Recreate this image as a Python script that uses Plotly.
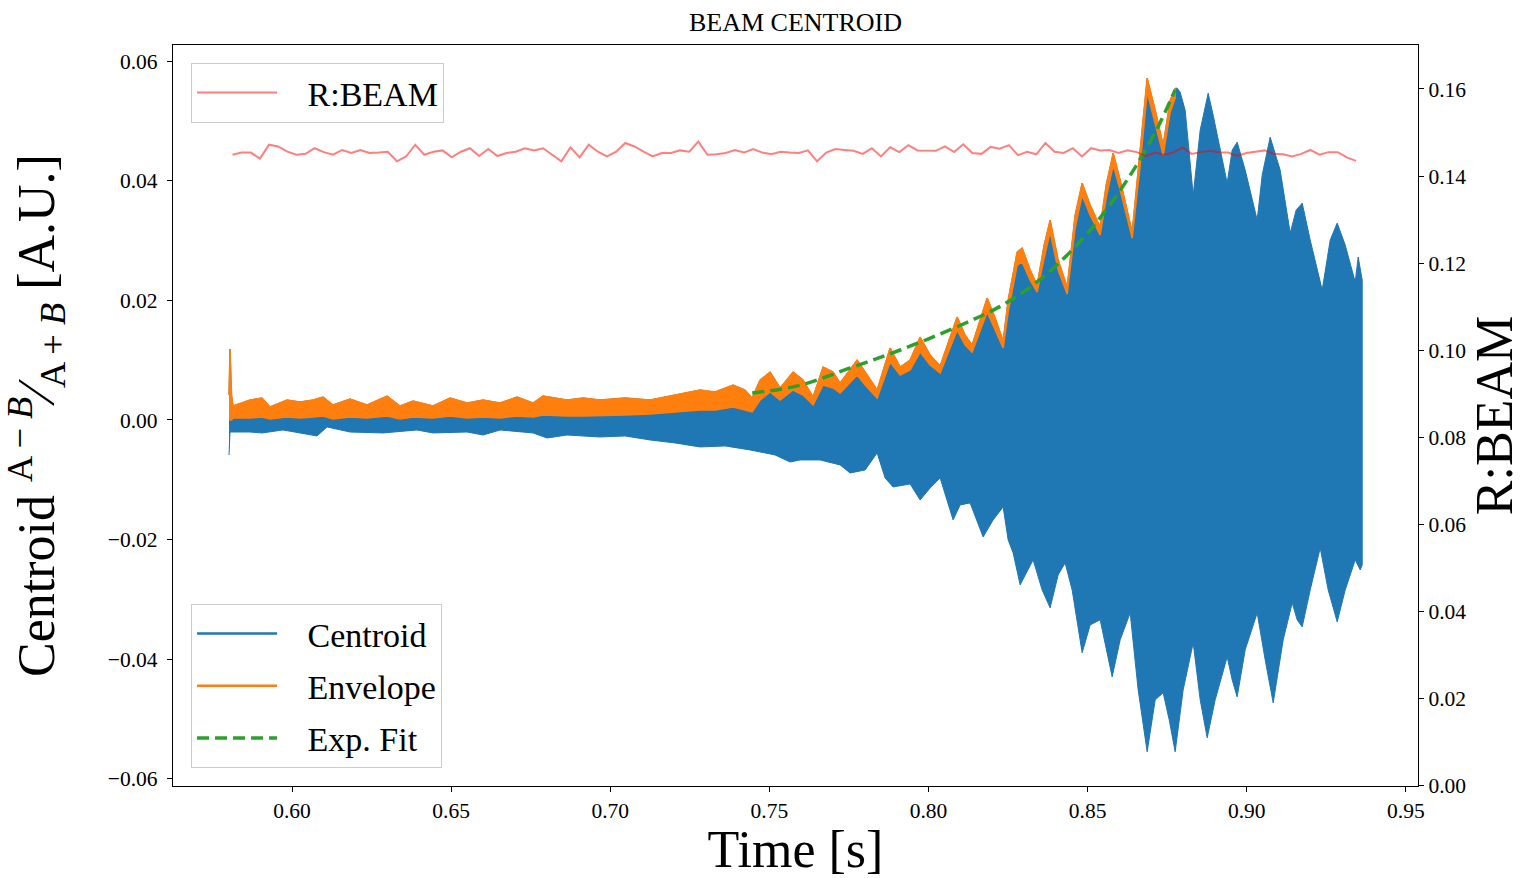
import plotly.graph_objects as go

# ---------------- data ----------------
# Envelope (orange) band: time [s], upper and lower edge [A.U.]
env_t = [0.58020, 0.58052, 0.58099, 0.58146, 0.58680, 0.59057, 0.59309, 0.59843, 0.60251, 0.60660,
         0.60974, 0.61289, 0.61823, 0.62357, 0.62986, 0.63394, 0.63803, 0.64431, 0.64965, 0.65500,
         0.66003, 0.66537, 0.67071, 0.67574, 0.67888, 0.68642, 0.69145, 0.69679, 0.70465, 0.71251,
         0.72036, 0.72822, 0.73294, 0.73859, 0.74236, 0.74456, 0.74708, 0.75022, 0.75336, 0.75745,
         0.76059, 0.76373, 0.76688, 0.77002, 0.77222, 0.77756, 0.78008, 0.78385, 0.78793, 0.79108,
         0.79422, 0.79736, 0.80050, 0.80365, 0.80899, 0.81150, 0.81370, 0.81842, 0.82093, 0.82344,
         0.82502, 0.82785, 0.82942, 0.83193, 0.83413, 0.83633, 0.83821, 0.84073, 0.84356, 0.84607,
         0.84827, 0.85079, 0.85393, 0.85582, 0.85802, 0.86022, 0.86399, 0.86650, 0.86870, 0.87122,
         0.87373, 0.87593, 0.87750]
env_hi = [0.00418, 0.01186, 0.00418, 0.00234, 0.00334, 0.00368, 0.00217, 0.00334, 0.00301, 0.00334,
          0.00384, 0.00251, 0.00351, 0.00251, 0.00401, 0.00234, 0.00317, 0.00234, 0.00368, 0.00284,
          0.00334, 0.00284, 0.00384, 0.00284, 0.00401, 0.00334, 0.00368, 0.00334, 0.00368, 0.00334,
          0.00418, 0.00501, 0.00468, 0.00585, 0.00501, 0.00368, 0.00668, 0.00802, 0.00535, 0.00802,
          0.00668, 0.00384, 0.00886, 0.00802, 0.00618, 0.01003, 0.00802, 0.00501, 0.01203, 0.00886,
          0.01003, 0.01387, 0.01086, 0.00902, 0.01721, 0.01420, 0.01253, 0.02039, 0.01704, 0.01320,
          0.02005, 0.02807, 0.02874, 0.02507, 0.02256, 0.02924, 0.03342, 0.02674, 0.02222, 0.03426,
          0.03960, 0.03593, 0.03225, 0.03927, 0.04462, 0.04010, 0.03141, 0.04512, 0.05715, 0.05180,
          0.04595, 0.05347, 0.05548]
env_lo = [0.00000, 0.00000, 0.00000, 0.00033, 0.00033, 0.00050, 0.00017, 0.00050, 0.00033, 0.00050,
          0.00067, 0.00017, 0.00050, 0.00033, 0.00067, 0.00017, 0.00050, 0.00033, 0.00067, 0.00033,
          0.00050, 0.00033, 0.00067, 0.00050, 0.00084, 0.00067, 0.00067, 0.00067, 0.00084, 0.00100,
          0.00134, 0.00167, 0.00167, 0.00217, 0.00167, 0.00134, 0.00334, 0.00468, 0.00334, 0.00501,
          0.00418, 0.00251, 0.00585, 0.00535, 0.00451, 0.00752, 0.00585, 0.00368, 0.00969, 0.00752,
          0.00836, 0.01136, 0.00919, 0.00785, 0.01504, 0.01253, 0.01136, 0.01805, 0.01504, 0.01203,
          0.01805, 0.02590, 0.02640, 0.02339, 0.02139, 0.02707, 0.03141, 0.02507, 0.02105, 0.03208,
          0.03760, 0.03426, 0.03091, 0.03710, 0.04261, 0.03843, 0.03041, 0.04261, 0.05481, 0.04980,
          0.04428, 0.05147, 0.05381]

# Centroid (blue) oscillation: upper edge after the envelope ends
cen_up_t = [0.87813, 0.87907, 0.88064, 0.88190, 0.88316, 0.88536, 0.88787, 0.88944, 0.89164, 0.89384,
            0.89541, 0.89698, 0.89950, 0.90327, 0.90484, 0.90735, 0.91049, 0.91364, 0.91552, 0.91741,
            0.91993, 0.92370, 0.92621, 0.92841, 0.93093, 0.93407, 0.93501, 0.93627]
cen_up = [0.05548, 0.05481, 0.05180, 0.04512, 0.03760, 0.04846, 0.05464, 0.05097, 0.04512, 0.03960,
          0.04512, 0.04645, 0.04178, 0.03342, 0.04094, 0.04729, 0.04178, 0.03125, 0.03509, 0.03626,
          0.03008, 0.02172, 0.03008, 0.03292, 0.02924, 0.02306, 0.02724, 0.02339]

# Centroid (blue) oscillation: lower edge
cen_lo_t = [0.58020, 0.58052, 0.58680, 0.59057, 0.59717, 0.60786, 0.61100, 0.61823, 0.62860, 0.63928,
            0.64431, 0.65500, 0.66003, 0.66537, 0.67574, 0.68014, 0.68642, 0.69679, 0.70465, 0.71251,
            0.72036, 0.72822, 0.73608, 0.74393, 0.75179, 0.75651, 0.75965, 0.76594, 0.77222, 0.77536,
            0.78008, 0.78385, 0.78636, 0.78887, 0.79422, 0.79736, 0.80050, 0.80365, 0.80773, 0.80993,
            0.81307, 0.81716, 0.82030, 0.82344, 0.82502, 0.82659, 0.82879, 0.83287, 0.83570, 0.83821,
            0.84073, 0.84293, 0.84513, 0.84827, 0.85079, 0.85393, 0.85582, 0.85770, 0.86022, 0.86336,
            0.86587, 0.86870, 0.87122, 0.87373, 0.87562, 0.87750, 0.88001, 0.88316, 0.88536, 0.88756,
            0.89007, 0.89384, 0.89541, 0.89698, 0.89950, 0.90327, 0.90578, 0.90830, 0.91144, 0.91427,
            0.91584, 0.91741, 0.91993, 0.92307, 0.92558, 0.92841, 0.93093, 0.93407, 0.93564, 0.93627]
cen_lo = [-0.00585, -0.00201, -0.00201, -0.00217, -0.00167, -0.00267, -0.00117, -0.00201, -0.00217, -0.00167,
          -0.00217, -0.00201, -0.00251, -0.00167, -0.00217, -0.00301, -0.00251, -0.00284, -0.00267, -0.00334,
          -0.00384, -0.00451, -0.00434, -0.00501, -0.00585, -0.00702, -0.00668, -0.00668, -0.00752, -0.00886,
          -0.00836, -0.00551, -0.00969, -0.01120, -0.01069, -0.01337, -0.01136, -0.00969, -0.01671, -0.01420,
          -0.01387, -0.01955, -0.01671, -0.01454, -0.02005, -0.02222, -0.02757, -0.02339, -0.02841, -0.03141,
          -0.02590, -0.02390, -0.02841, -0.03893, -0.03426, -0.03342, -0.03843, -0.04294, -0.03676, -0.03225,
          -0.04512, -0.05548, -0.04679, -0.04562, -0.05013, -0.05548, -0.04512, -0.03726, -0.04679, -0.05314,
          -0.04679, -0.03960, -0.04345, -0.04629, -0.03843, -0.03225, -0.04011, -0.04729, -0.03676, -0.03058,
          -0.03342, -0.03459, -0.02841, -0.02139, -0.02841, -0.03375, -0.02841, -0.02339, -0.02507, -0.02423]

# Exponential fit (green dashed)
fit_t = [0.7446, 0.7596, 0.7754, 0.7911, 0.8099, 0.8225, 0.8329, 0.8436, 0.8539, 0.8643, 0.8718, 0.8775]
fit_v = [0.0045, 0.0058, 0.0087, 0.0117, 0.0158, 0.0190, 0.0226, 0.0276, 0.0338, 0.0417, 0.0487, 0.0552]

# R:BEAM (right axis), sampled every rb_dt seconds from rb_t0
rb_t0 = 0.5813
rb_dt = 0.00287
rbeam = [0.1449, 0.1454, 0.1454, 0.1440, 0.1472, 0.1468, 0.1456, 0.1449, 0.1451, 0.1464,
         0.1455, 0.1449, 0.1460, 0.1453, 0.1460, 0.1453, 0.1454, 0.1456, 0.1434, 0.1445,
         0.1472, 0.1449, 0.1456, 0.1459, 0.1443, 0.1456, 0.1464, 0.1446, 0.1462, 0.1446,
         0.1453, 0.1456, 0.1464, 0.1459, 0.1464, 0.1449, 0.1434, 0.1466, 0.1443, 0.1472,
         0.1456, 0.1445, 0.1456, 0.1476, 0.1468, 0.1456, 0.1445, 0.1453, 0.1453, 0.1459,
         0.1456, 0.1479, 0.1449, 0.1450, 0.1453, 0.1460, 0.1454, 0.1462, 0.1454, 0.1450,
         0.1456, 0.1454, 0.1453,
         0.1459, 0.1434, 0.1454, 0.1462, 0.1460, 0.1458, 0.1451, 0.1464, 0.1445, 0.1466,
         0.1455, 0.1471, 0.1459, 0.1458, 0.1458, 0.1468, 0.1455, 0.1473, 0.1453, 0.1451,
         0.1467, 0.1463, 0.1471, 0.1448, 0.1456, 0.1450, 0.1476, 0.1456, 0.1453, 0.1464,
         0.1445, 0.1464, 0.1459, 0.1460, 0.1453, 0.1459, 0.1455, 0.1446, 0.1454, 0.1449,
         0.1454, 0.1466, 0.1451, 0.1455, 0.1458, 0.1455, 0.1454, 0.1446, 0.1453, 0.1456,
         0.1459, 0.1451, 0.1450, 0.1445, 0.1451, 0.1460, 0.1449, 0.1455, 0.1455, 0.1443,
         0.1435]
rb_t = [rb_t0 + i * rb_dt for i in range(len(rbeam))]

x_ticks = [0.60, 0.65, 0.70, 0.75, 0.80, 0.85, 0.90, 0.95]

# ---------------- styling ----------------
FONT = "Liberation Serif"
BLUE, ORANGE, GREEN = "#1f77b4", "#ff7f0e", "#2ca02c"
RED = "rgba(255,0,0,0.5)"
PAD = "\u00a0\u00a0\u00a0"  # gap between legend line and label

fig = go.Figure()

# Centroid oscillation band (upper edge hidden under the envelope, then its own peaks)
top_t = env_t + cen_up_t
top_v = env_hi + cen_up
poly_x = top_t + cen_lo_t[::-1]
poly_y = top_v + cen_lo[::-1]
fig.add_trace(go.Scatter(x=poly_x, y=poly_y, mode="lines", fill="toself",
                         fillcolor=BLUE, line=dict(color=BLUE, width=1),
                         showlegend=False, hoverinfo="skip"))

# Envelope band
fig.add_trace(go.Scatter(x=env_t + env_t[::-1], y=env_hi + env_lo[::-1], mode="lines",
                         fill="toself", fillcolor=ORANGE, line=dict(color=ORANGE, width=1.5),
                         showlegend=False, hoverinfo="skip"))

# Legend stand-ins for the bands
fig.add_trace(go.Scatter(x=[None], y=[None], mode="lines", name=PAD + "Centroid",
                         line=dict(color=BLUE, width=2.5), legend="legend", legendrank=1,
                         legendgroup="g1"))
fig.add_trace(go.Scatter(x=[None], y=[None], mode="lines", name=PAD + "Envelope",
                         line=dict(color=ORANGE, width=2.5), legend="legend", legendrank=2,
                         legendgroup="g2"))

# Exponential fit
fig.add_trace(go.Scatter(x=fit_t, y=fit_v, mode="lines", name=PAD + "Exp. Fit",
                         line=dict(color=GREEN, width=3.5, dash="12px,6px", shape="spline"),
                         legend="legend", legendrank=3, legendgroup="g3"))

# R:BEAM on the right axis
fig.add_trace(go.Scatter(x=rb_t, y=rbeam, mode="lines", name=PAD + "R:BEAM", yaxis="y2",
                         line=dict(color=RED, width=2), legend="legend2"))

axis_common = dict(showline=True, linecolor="black", linewidth=1.2, ticks="outside",
                   ticklen=5, tickwidth=1.2, tickcolor="black", showgrid=False, zeroline=False,
                   automargin=False,
                   tickfont=dict(family=FONT, size=21.5, color="black"))

fig.update_layout(
    width=1523, height=878, autosize=False,
    margin=dict(l=173, r=105, t=45, b=92, pad=0),
    paper_bgcolor="white", plot_bgcolor="white",
    font=dict(family=FONT, color="black"),
    title=dict(text="BEAM CENTROID", x=0.5, xref="paper", xanchor="center",
               y=1 - 22 / 878, yanchor="middle", font=dict(family=FONT, size=26, color="black")),
    xaxis=dict(range=[0.5626, 0.9538], tickvals=x_ticks, tickformat=".2f", mirror=True,
               ticklabelstandoff=0,
               title=dict(text="Time [s]", font=dict(family=FONT, size=52), standoff=12),
               **axis_common),
    yaxis=dict(range=[-0.0612, 0.0627], tick0=0, dtick=0.02, tickformat=".2f",
               ticklabelstandoff=5,
               title=dict(text="Centroid <sup>A − <i>B</i></sup>⁄<sub>A + <i>B</i></sub> [A.U.]",
                          font=dict(family=FONT, size=52), standoff=36),
               **axis_common),
    yaxis2=dict(range=[-0.00005, 0.1701], tick0=0, dtick=0.02, tickformat=".2f",
                overlaying="y", side="right",
                title=dict(text="R:BEAM", font=dict(family=FONT, size=52), standoff=12),
                **axis_common),
    legend=dict(x=0.0145, y=0.0243, xanchor="left", yanchor="bottom",
                bgcolor="rgba(255,255,255,0.8)", bordercolor="#cccccc", borderwidth=1,
                font=dict(family=FONT, size=34, color="black"), itemwidth=80,
                traceorder="grouped", tracegroupgap=5),
    legend2=dict(x=0.0145, y=0.9757, xanchor="left", yanchor="top",
                 bgcolor="rgba(255,255,255,0.8)", bordercolor="#cccccc", borderwidth=1,
                 font=dict(family=FONT, size=34, color="black"), itemwidth=80),
)

fig.write_html("out.html")
